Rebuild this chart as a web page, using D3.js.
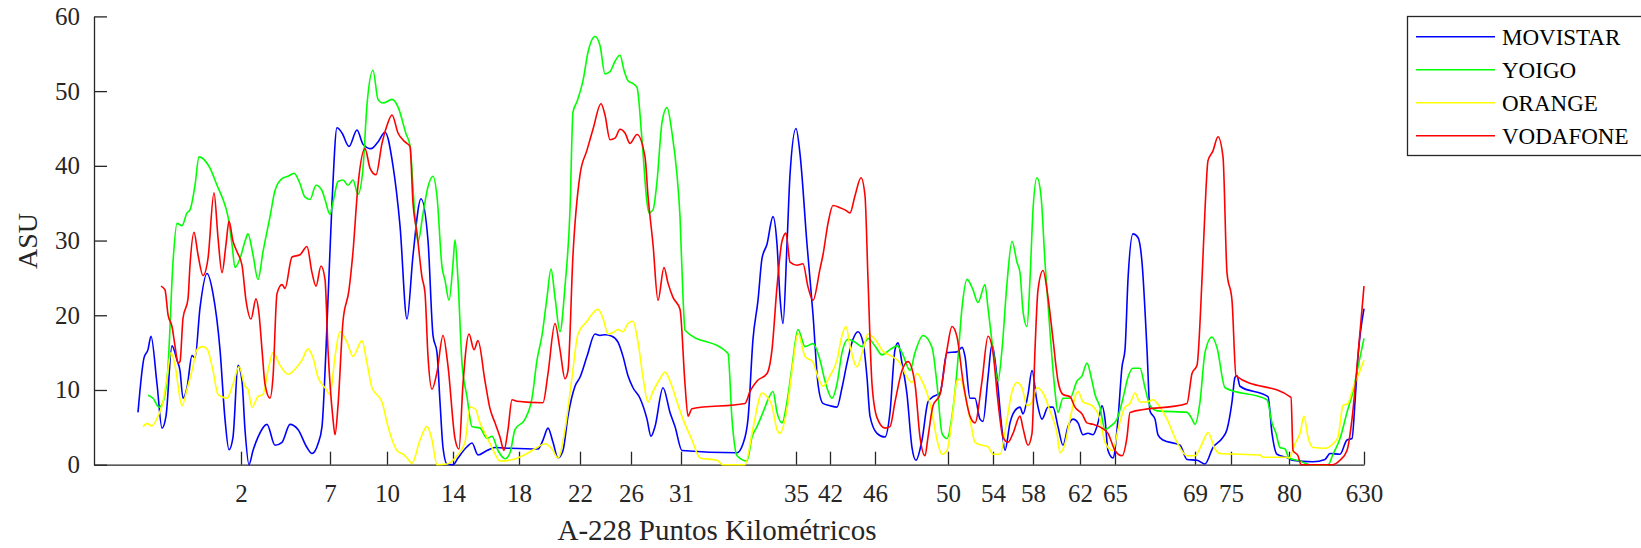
<!DOCTYPE html>
<html>
<head>
<meta charset="utf-8">
<script src="https://cdn.jsdelivr.net/npm/d3@7"></script>
<style>
  body { margin: 0; background: #fff; }
  svg { display: block; font-family: "Liberation Serif", "Times New Roman", serif; }
</style>
</head>
<body>
<div id="chart"></div>
<script>
/* Sample positions along the road (0..1270) and ASU readings per operator */
const movistar = [[44,7.0],[50,14.3],[54,15.4],[57,17.2],[63,10.8],[68,4.9],[72,6.5],[78,15.9],[83,14.0],[86,12.6],[89,8.9],[93,10.3],[98,14.6],[101,14.3],[106,21.0],[113,25.6],[119,22.9],[126,15.4],[131,6.1],[135,2.0],[139,3.7],[144,13.3],[148,11.2],[151,4.7],[155,0],[159,1.9],[164,3.7],[173,5.4],[181,2.6],[188,3.0],[196,5.4],[204,4.7],[213,2.3],[218,1.5],[224,2.8],[228,5.1],[232,15.4],[238,35.1],[243,45.1],[248,44.4],[255,42.6],[263,44.8],[269,42.9],[277,42.3],[284,43.2],[291,44.5],[299,40.0],[306,32.0],[313,19.5],[319,28.0],[327,35.6],[334,30.0],[339,17.3],[343,15.0],[346,8.4],[349,2.3],[353,0.1],[359,0],[364,0.9],[373,2.4],[378,2.9],[384,1.3],[393,1.9],[401,2.3],[416,2.2],[444,2.1],[449,3.3],[454,4.9],[459,3.0],[464,0.9],[469,1.9],[474,6.5],[481,10.5],[486,11.7],[493,14.5],[501,17.5],[506,17.3],[511,17.4],[518,17.2],[524,16.4],[529,14.5],[534,11.9],[539,10.3],[546,8.9],[553,6.1],[557,3.8],[561,5.1],[569,10.3],[576,7.0],[581,5.1],[588,1.9],[643,1.6],[649,2.8],[654,6.1],[659,16.8],[664,22.0],[668,27.6],[673,29.5],[679,33.2],[683,29.5],[686,22.4],[689,18.9],[693,29.5],[696,38.8],[702,45.0],[706,41.6],[713,29.5],[719,20.1],[724,10.8],[729,8.2],[736,7.9],[743,7.7],[748,10.3],[753,13.6],[759,16.8],[764,17.8],[769,16.4],[773,11.7],[776,6.5],[783,4.2],[791,3.7],[796,7.0],[801,15.4],[804,16.3],[808,13.6],[813,9.4],[818,2.3],[822,0.6],[828,3.3],[834,8.4],[839,9.1],[846,9.6],[853,15.0],[863,15.1],[868,15.7],[871,14.5],[876,8.9],[881,8.9],[886,6.1],[889,5.8],[894,11.7],[898,16.1],[903,11.7],[908,4.7],[911,1.9],[916,5.6],[919,6.8],[926,7.7],[929,6.8],[934,9.4],[938,12.6],[943,8.4],[948,6.1],[954,7.7],[959,7.7],[964,5.1],[969,2.6],[974,5.1],[979,6.1],[984,5.6],[989,4.0],[994,4.2],[999,4.0],[1004,5.6],[1008,7.9],[1011,6.1],[1014,1.9],[1019,0.9],[1024,6.1],[1028,13.1],[1031,15.4],[1034,24.8],[1039,30.9],[1044,30.4],[1048,27.1],[1053,15.4],[1056,7.2],[1061,6.1],[1064,4.0],[1069,3.3],[1086,2.6],[1093,0.7],[1103,0.6],[1111,0.1],[1119,2.3],[1128,3.5],[1133,4.7],[1138,8.4],[1141,11.7],[1143,11.9],[1146,10.5],[1174,9.1],[1178,4.2],[1183,1.4],[1194,0.9],[1198,0.6],[1219,0.4],[1231,0.7],[1236,1.5],[1246,1.4],[1253,3.3],[1258,3.5],[1261,8.4],[1264,14.5],[1270,20.9]];

const yoigo = [[54,9.3],[59,8.9],[65,7.7],[69,8.4],[74,13.1],[79,27.1],[83,32.3],[88,32.0],[93,33.7],[96,34.1],[101,37.4],[105,41.2],[111,40.7],[116,39.7],[123,37.4],[129,35.5],[134,33.2],[138,29.5],[141,26.4],[146,27.6],[151,29.9],[154,30.9],[159,28.1],[164,24.8],[169,28.5],[176,33.2],[181,36.7],[188,38.3],[194,38.6],[200,39.0],[206,37.6],[211,35.8],[216,35.5],[222,37.4],[228,36.7],[231,35.5],[236,33.5],[239,35.1],[244,37.9],[249,38.1],[254,37.4],[259,38.1],[264,36.2],[269,39.7],[273,48.2],[279,52.8],[284,48.9],[289,48.4],[298,48.9],[304,47.9],[312,44.3],[316,42.7],[321,33.2],[324,29.8],[329,33.6],[334,37.2],[339,38.6],[343,35.9],[348,26.5],[351,24.7],[355,22.0],[359,26.9],[361,30.1],[364,24.7],[368,13.6],[373,9.1],[378,5.1],[386,4.9],[393,3.5],[398,3.8],[404,1.9],[411,0.8],[416,1.6],[421,4.7],[431,6.1],[438,8.9],[443,14.0],[448,17.3],[453,22.4],[457,26.2],[461,22.4],[466,17.8],[471,23.9],[476,34.1],[479,47.2],[483,48.6],[489,51.4],[494,55.2],[501,57.3],[506,56.1],[511,52.3],[516,52.6],[521,54.0],[526,54.8],[530,52.8],[534,51.4],[539,51.0],[543,50.5],[548,43.5],[553,35.1],[555,33.7],[559,34.1],[563,37.9],[568,45.8],[573,47.8],[578,44.4],[583,38.8],[586,33.2],[589,22.4],[591,18.0],[634,14.9],[638,6.1],[643,1.2],[653,0.5],[658,3.7],[663,5.1],[669,7.0],[674,8.7],[679,9.8],[683,7.0],[688,5.6],[693,8.4],[698,13.1],[704,18.1],[711,15.8],[719,16.2],[726,14.0],[731,11.2],[738,8.9],[743,10.8],[748,15.0],[754,16.8],[761,16.4],[768,15.8],[774,16.9],[781,15.9],[788,14.7],[796,15.4],[803,15.9],[808,15.0],[816,12.6],[821,15.0],[829,17.3],[838,15.7],[843,10.8],[848,4.2],[853,3.5],[858,6.5],[863,12.6],[868,21.0],[873,24.8],[879,23.4],[884,21.7],[891,24.1],[894,21.0],[899,15.4],[904,11.2],[908,15.4],[913,24.3],[918,29.9],[923,27.1],[926,25.7],[929,20.6],[933,18.5],[936,24.8],[939,34.1],[943,38.4],[947,36.0],[951,27.1],[956,17.8],[961,9.8],[964,7.0],[969,8.9],[976,8.9],[983,11.2],[988,11.9],[993,13.6],[998,11.2],[1001,9.4],[1006,7.7],[1011,4.7],[1016,5.1],[1023,6.1],[1029,8.9],[1034,11.7],[1039,12.9],[1046,12.9],[1051,10.3],[1056,7.9],[1064,7.2],[1093,7.0],[1098,6.1],[1101,5.4],[1106,8.4],[1111,15.0],[1118,17.1],[1123,15.7],[1131,10.3],[1173,8.7],[1178,5.6],[1182,4.2],[1186,2.3],[1191,2.1],[1195,0.9],[1206,0.5],[1216,0],[1234,0],[1239,1.4],[1246,3.5],[1253,7.0],[1259,9.8],[1264,13.1],[1270,16.9]];

const orange = [[49,5.1],[53,5.5],[58,5.2],[64,6.5],[69,8.4],[73,11.7],[77,15.0],[81,13.3],[88,7.9],[93,10.1],[98,12.6],[103,15.4],[108,15.8],[113,15.5],[119,12.6],[124,9.4],[133,8.9],[139,10.8],[145,13.1],[151,10.5],[154,10.1],[158,7.7],[164,9.1],[169,9.4],[174,12.6],[179,15.0],[186,13.3],[194,12.1],[203,13.1],[208,14.0],[214,15.5],[219,14.3],[224,11.7],[231,10.3],[236,9.4],[241,14.5],[246,17.8],[253,16.4],[259,14.5],[268,16.6],[273,13.6],[278,10.3],[288,8.4],[294,5.1],[303,1.9],[309,1.4],[313,0.9],[318,0.2],[326,3.3],[333,5.1],[338,3.3],[343,0],[353,0.1],[363,1.2],[371,3.0],[376,7.7],[381,7.5],[386,5.6],[391,4.2],[398,2.3],[406,0.5],[419,0.7],[433,1.5],[443,2.3],[451,2.8],[458,2.1],[464,0.9],[471,4.7],[478,11.7],[484,17.5],[493,19.2],[499,20.3],[504,20.8],[509,19.6],[514,17.5],[519,17.7],[524,18.1],[529,17.8],[534,18.9],[539,19.2],[544,16.4],[549,11.7],[554,8.4],[559,9.8],[566,11.5],[571,12.4],[576,11.2],[583,8.4],[589,6.1],[598,3.3],[606,0.9],[623,0.6],[629,0],[651,0],[659,4.9],[668,9.6],[673,9.1],[678,7.9],[683,4.7],[686,4.2],[693,7.5],[699,13.6],[704,17.6],[711,14.5],[719,13.7],[724,11.7],[729,10.5],[736,11.9],[743,14.0],[748,17.3],[752,18.5],[756,15.9],[763,13.1],[769,15.4],[774,17.5],[781,16.8],[789,15.2],[798,14.5],[806,13.6],[813,11.7],[818,11.0],[823,12.2],[828,11.2],[833,9.6],[838,7.0],[843,3.3],[848,1.4],[853,1.9],[858,6.1],[863,11.2],[866,11.5],[871,9.4],[876,6.1],[881,3.0],[888,2.6],[894,2.4],[899,1.4],[906,1.4],[913,6.1],[918,9.8],[923,11.0],[928,10.3],[933,7.9],[938,8.4],[943,10.3],[949,9.6],[956,7.2],[963,4.2],[966,1.6],[971,2.8],[976,6.1],[984,9.8],[989,8.4],[998,7.9],[1006,6.1],[1011,3.0],[1019,1.9],[1024,4.7],[1031,7.7],[1036,8.2],[1041,9.6],[1046,8.4],[1053,8.4],[1059,8.7],[1066,7.7],[1073,6.1],[1083,3.0],[1093,1.2],[1101,1.2],[1108,2.8],[1114,4.3],[1121,2.1],[1126,1.5],[1146,1.4],[1166,1.3],[1169,1.0],[1191,1.0],[1195,0.9],[1201,2.8],[1206,4.2],[1210,6.5],[1214,3.7],[1219,2.3],[1231,2.2],[1239,2.8],[1244,3.7],[1249,7.9],[1254,8.2],[1259,10.3],[1264,11.9],[1270,14.0]];

const vodafone = [[67,23.9],[71,23.4],[74,20.1],[78,18.5],[81,15.9],[84,13.6],[86,13.8],[89,19.6],[94,22.2],[96,26.7],[100,31.1],[104,28.1],[109,25.3],[114,27.6],[120,36.4],[124,30.4],[128,25.7],[132,29.5],[135,32.6],[139,29.9],[143,28.5],[148,26.7],[152,22.0],[157,19.5],[162,22.2],[165,20.2],[168,15.4],[171,10.8],[176,8.9],[179,11.7],[183,22.9],[188,24.1],[191,23.6],[198,27.8],[206,28.1],[213,29.2],[218,25.7],[222,23.9],[227,26.6],[231,24.8],[234,15.4],[239,6.1],[241,4.0],[244,7.9],[249,19.2],[255,23.4],[259,28.5],[264,37.4],[271,42.3],[276,39.7],[282,38.8],[288,43.0],[293,45.4],[298,46.8],[304,44.4],[311,43.2],[316,42.6],[319,35.0],[323,31.0],[328,25.1],[331,23.0],[334,14.5],[338,10.1],[343,12.4],[349,17.3],[354,13.2],[361,3.5],[365,2.1],[369,10.8],[375,17.5],[380,15.4],[384,16.6],[391,11.2],[396,7.5],[401,5.6],[406,3.7],[410,1.9],[414,4.7],[418,8.7],[423,8.5],[449,8.3],[454,12.2],[461,18.9],[466,15.4],[471,11.5],[474,12.6],[479,28.1],[486,38.8],[493,42.1],[499,44.9],[507,48.3],[511,46.8],[516,43.5],[521,43.7],[526,44.9],[531,44.4],[536,43.0],[543,44.2],[551,41.2],[554,36.0],[559,29.5],[564,22.0],[570,26.4],[574,24.3],[579,22.4],[586,20.8],[591,10.8],[594,6.5],[598,7.5],[651,8.2],[656,9.8],[663,11.2],[673,12.2],[678,15.4],[683,23.8],[688,29.9],[692,31.0],[696,27.1],[703,26.7],[709,26.9],[714,23.8],[719,22.0],[726,26.2],[729,28.1],[734,32.3],[739,34.7],[746,34.4],[751,34.1],[756,33.7],[761,36.0],[767,38.4],[771,36.0],[774,24.8],[778,10.8],[783,6.3],[791,4.9],[796,5.1],[801,8.4],[808,12.6],[814,13.8],[821,10.8],[826,3.7],[831,1.2],[834,3.7],[839,7.9],[846,9.4],[853,15.4],[858,18.5],[863,17.1],[869,11.2],[876,6.5],[881,5.6],[888,11.2],[894,17.2],[899,15.0],[904,8.4],[909,3.7],[914,3.0],[919,4.2],[926,6.5],[929,4.9],[934,2.6],[938,4.2],[941,15.4],[944,23.4],[949,26.0],[954,22.4],[959,16.8],[964,11.2],[969,9.4],[976,9.1],[981,7.7],[988,6.8],[993,5.6],[999,5.4],[1008,4.9],[1014,4.2],[1021,1.9],[1028,1.2],[1033,3.7],[1036,7.0],[1093,8.2],[1098,12.2],[1103,13.3],[1108,24.8],[1111,34.1],[1114,40.7],[1119,42.0],[1124,43.9],[1129,41.2],[1133,25.7],[1138,22.0],[1142,11.9],[1197,9.0],[1199,1.9],[1204,1.2],[1207,0],[1238,0],[1246,0.6],[1253,1.9],[1258,6.1],[1263,13.1],[1270,23.9]];

/* Tick positions on the sample axis and the kilometre points they stand for */
const kmTickPos = [147, 236, 293, 359, 425, 486, 537, 587, 702, 736, 781, 854, 899, 939, 986, 1021, 1101, 1137, 1195, 1270];
const kmTickLabels = ["2", "7", "10", "14", "18", "22", "26", "31", "35", "42", "46", "50", "54", "58", "62", "65", "69", "75", "80", "630"];
const asuTicks = [0, 10, 20, 30, 40, 50, 60];

const seriesNames = ["MOVISTAR", "YOIGO", "ORANGE", "VODAFONE"];
const seriesColors = ["#0000ff", "#00ff00", "#ffff00", "#ff0000"];

const createLineChart = () => {
  const width = 1641, height = 548;
  const margins = {top: 16.4, right: 277, bottom: 83.3, left: 94};
  const axisColor = "#262626";

  const svg = d3.select("#chart")
    .append("svg")
    .attr("width", width)
    .attr("height", height);

  const xScale = d3.scaleLinear()
    .domain([0, 1270])
    .range([margins.left, width - margins.right]);

  const yScale = d3.scaleLinear()
    .domain([0, 60])
    .range([height - margins.bottom, margins.top]);

  const line = d3.line()
    .x(d => xScale(d[0]))
    .y(d => yScale(d[1]))
    .curve(d3.curveMonotoneX);

  /* Axes, ticks pointing inwards like MATLAB */
  const xGroup = svg.append("g")
    .attr("transform", `translate(0,${height - margins.bottom})`)
    .call(d3.axisBottom(xScale)
      .tickValues(kmTickPos)
      .tickFormat((d, i) => kmTickLabels[i])
      .tickSizeInner(-13)
      .tickSizeOuter(0)
      .tickPadding(20));

  const yGroup = svg.append("g")
    .attr("transform", `translate(${margins.left},0)`)
    .call(d3.axisLeft(yScale)
      .tickValues(asuTicks)
      .tickSizeInner(-13)
      .tickSizeOuter(0)
      .tickPadding(14));

  [xGroup, yGroup].forEach(g => {
    g.select(".domain").attr("stroke", axisColor).attr("stroke-width", 1.3);
    g.selectAll(".tick line").attr("stroke", axisColor).attr("stroke-width", 1.3);
    g.selectAll(".tick text")
      .attr("fill", axisColor)
      .style("font-size", "25px")
      .style("font-family", "'Liberation Serif', 'Times New Roman', serif");
  });

  /* Draw one path per operator */
  const allSeries = [movistar, yoigo, orange, vodafone];
  svg.selectAll("path.series")
    .data(allSeries)
    .join("path")
      .attr("class", "series")
      .attr("fill", "none")
      .attr("stroke", (d, i) => seriesColors[i])
      .attr("stroke-width", 1.6)
      .attr("stroke-linejoin", "round")
      .attr("d", line);

  /* Axis labels */
  svg.append("text")
    .attr("x", 717)
    .attr("y", 540)
    .attr("text-anchor", "middle")
    .attr("fill", axisColor)
    .style("font-size", "29px")
    .text("A-228 Puntos Kilométricos");

  svg.append("text")
    .attr("transform", "translate(37,241) rotate(-90)")
    .attr("text-anchor", "middle")
    .attr("fill", axisColor)
    .style("font-size", "28px")
    .text("ASU");

  /* Legend box in the top right corner */
  const legend = svg.append("g")
    .attr("transform", "translate(1407.5,16.5)");

  legend.append("rect")
    .attr("width", 240)
    .attr("height", 139)
    .attr("fill", "#fff")
    .attr("stroke", axisColor)
    .attr("stroke-width", 1.3);

  const rows = legend.selectAll("g.row")
    .data(seriesNames)
    .join("g")
      .attr("class", "row")
      .attr("transform", (d, i) => `translate(0,${20.2 + i * 33})`);

  rows.append("line")
    .attr("x1", 8.5)
    .attr("x2", 87.5)
    .attr("stroke", (d, i) => seriesColors[i])
    .attr("stroke-width", 1.6);

  rows.append("text")
    .attr("x", 94.5)
    .attr("dy", "0.35em")
    .attr("fill", "#000")
    .style("font-size", "23px")
    .text(d => d);
}

createLineChart();
</script>
</body>
</html>
